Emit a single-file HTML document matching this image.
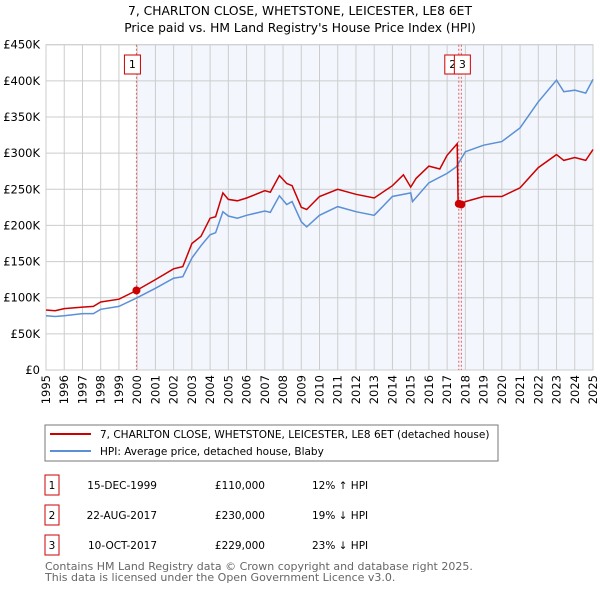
<!DOCTYPE html>
<html><head><meta charset="utf-8"><style>
body{margin:0;background:#fff}
svg{font-family:"DejaVu Sans","Liberation Sans",sans-serif;display:block}
</style></head><body>
<svg id="chart" width="600" height="590" viewBox="0 0 600 590" xmlns="http://www.w3.org/2000/svg">
<text x="300" y="15" text-anchor="middle" font-size="12.3">7, CHARLTON CLOSE, WHETSTONE, LEICESTER, LE8 6ET</text>
<text x="300" y="32" text-anchor="middle" font-size="12.3">Price paid vs. HM Land Registry's House Price Index (HPI)</text>
<g id="plot"></g>
<g>
<rect x="45" y="425" width="453" height="36" fill="#fff" stroke="#777"/>
<line x1="50" y1="434" x2="91" y2="434" stroke="#cc0000" stroke-width="2"/>
<text x="100" y="438" font-size="10.5">7, CHARLTON CLOSE, WHETSTONE, LEICESTER, LE8 6ET (detached house)</text>
<line x1="50" y1="451" x2="91" y2="451" stroke="#5b8fd6" stroke-width="2"/>
<text x="100" y="455" font-size="10.5">HPI: Average price, detached house, Blaby</text>
</g>
<g id="table" font-size="10.5"></g>
<text x="45" y="570" font-size="11" fill="#666">Contains HM Land Registry data © Crown copyright and database right 2025.</text>
<text x="45" y="581" font-size="11" fill="#666">This data is licensed under the Open Government Licence v3.0.</text>
</svg>
<script>
const yTicks=[0,50,100,150,200,250,300,350,400,450];
const yearLabels=[1995,1996,1997,1998,1999,2000,2001,2002,2003,2004,2005,2006,2007,2008,2009,2010,2011,2012,2013,2014,2015,2016,2017,2018,2019,2020,2021,2022,2023,2024,2025];
const hpiX=[1995,1995.5,1996,1997,1997.6,1998,1999,2000,2001,2002,2002.5,2003,2003.5,2004,2004.3,2004.7,2005,2005.5,2006,2007,2007.3,2007.8,2008.2,2008.5,2009,2009.3,2010,2011,2012,2013,2014,2015,2015.1,2016,2017,2017.5,2018,2019,2020,2021,2022,2023,2023.4,2024,2024.6,2025];
const hpiY=[75,74,75,78,78,84,88,100,113,127,129,155,172,187,190,219,213,210,214,220,218,241,229,233,205,198,214,226,219,214,240,245,233,259,272,281,302,311,316,335,371,401,385,387,383,402];
const propX=[1995,1995.5,1996,1997,1997.6,1998,1999,1999.96,2001,2002,2002.5,2003,2003.5,2004,2004.3,2004.7,2005,2005.5,2006,2007,2007.3,2007.8,2008.2,2008.5,2009,2009.3,2010,2011,2012,2013,2014,2014.6,2015,2015.3,2016,2016.6,2017,2017.55,2017.6,2017.78,2018,2019,2020,2021,2022,2023,2023.4,2024,2024.6,2025];
const propY=[83,82,85,87,88,94,98,110,125,140,143,175,185,210,212,245,236,234,238,248,246,269,258,255,225,222,240,250,243,238,255,270,253,265,282,278,297,313,230,229,233,240,240,252,280,298,290,294,290,305];
const saleX=[1999.96,2017.64,2017.78];
const saleY=[110,230,229];
const saleLabels=["1","2","3"];
const saleDates=["15-DEC-1999","22-AUG-2017","10-OCT-2017"];
const salePrices=["£110,000","£230,000","£229,000"];
const saleHpi=["12% ↑ HPI","19% ↓ HPI","23% ↓ HPI"];

const NS="http://www.w3.org/2000/svg";
const X0=46,X1=593,Y0=370,Y1=44.7;
const xs=v=>X0+(v-1995)/30*(X1-X0);
const ys=v=>Y0-v/450*(Y0-Y1);
const plot=document.getElementById('plot');
function mk(tag,attrs,parent){const e=document.createElementNS(NS,tag);for(const k in attrs)e.setAttribute(k,attrs[k]);(parent||plot).appendChild(e);return e;}
let e;
e=mk('rect',{x:xs(saleX[0]),y:Y1,width:X1-xs(saleX[0]),height:Y0-Y1,fill:'#eef3fc',opacity:0.7});


yTicks.forEach(t=>{
 e=mk('line',{x1:X0,x2:X1,y1:ys(t),y2:ys(t),stroke:'#ccc','stroke-width':1});
 
 
 e=mk('text',{x:X0-6,y:ys(t)+4,'text-anchor':'end','font-size':11.5});
 e.textContent=t===0?'£0':'£'+t+'K';
 
 
});
yearLabels.forEach(yr=>{
 e=mk('line',{x1:xs(yr),x2:xs(yr),y1:Y1,y2:Y0,stroke:'#ccc','stroke-width':1});
 
 
 const tx=xs(yr)+4,ty=Y0+5;
 e=mk('text',{x:tx,y:ty,'text-anchor':'end','font-size':11.5,transform:`rotate(-90 ${tx} ${ty})`});
 e.textContent=yr;
 
 
});
e=mk('rect',{x:X0,y:Y1,width:X1-X0,height:Y0-Y1,fill:'none',stroke:'#ccc'});


saleX.forEach((sx,i)=>{
 e=mk('line',{x1:xs(sx),x2:xs(sx),y1:Y1,y2:Y0,stroke:'#e06060','stroke-dasharray':'2,2','stroke-width':1});
 
 
});
const pts=(X,Y)=>X.map((x,i)=>xs(x).toFixed(1)+','+ys(Y[i]).toFixed(1)).join(' ');
e=mk('polyline',{points:pts(hpiX,hpiY),fill:'none',stroke:'#5b8fd6','stroke-width':1.5});


e=mk('polyline',{points:pts(propX,propY),fill:'none',stroke:'#cc0000','stroke-width':1.5});


saleX.forEach((sx,i)=>{
 e=mk('circle',{cx:xs(sx),cy:ys(saleY[i]),r:4,fill:'#cc0000'});
 
 
});
[0,1,2].forEach(i=>{
 const cx=i===0?xs(saleX[i])-4:(i===1?xs(saleX[i])-6:xs(saleX[i])+1);
 e=mk('rect',{x:cx-8,y:55,width:16,height:19,fill:'#fff',stroke:'#cc0000'});
 
 
 e=mk('text',{x:cx,y:68,'text-anchor':'middle','font-size':11});
 e.textContent=saleLabels[i];
 
 
});
const tb=document.getElementById('table');
saleLabels.forEach((l,i)=>{
 const y=485+i*30;
 e=mk('rect',{x:45,y:y-10,width:14,height:20,fill:'#fff',stroke:'#cc0000'},tb);
 
 
 e=mk('text',{x:52,y:y+4,'text-anchor':'middle'},tb);e.textContent=l;
 
 
 e=mk('text',{x:157,y:y+4,'text-anchor':'end'},tb);e.textContent=saleDates[i];
 
 
 e=mk('text',{x:265,y:y+4,'text-anchor':'end'},tb);e.textContent=salePrices[i];
 
 
 e=mk('text',{x:312,y:y+4},tb);e.textContent=saleHpi[i];
 
 
});
</script>
</body></html>
